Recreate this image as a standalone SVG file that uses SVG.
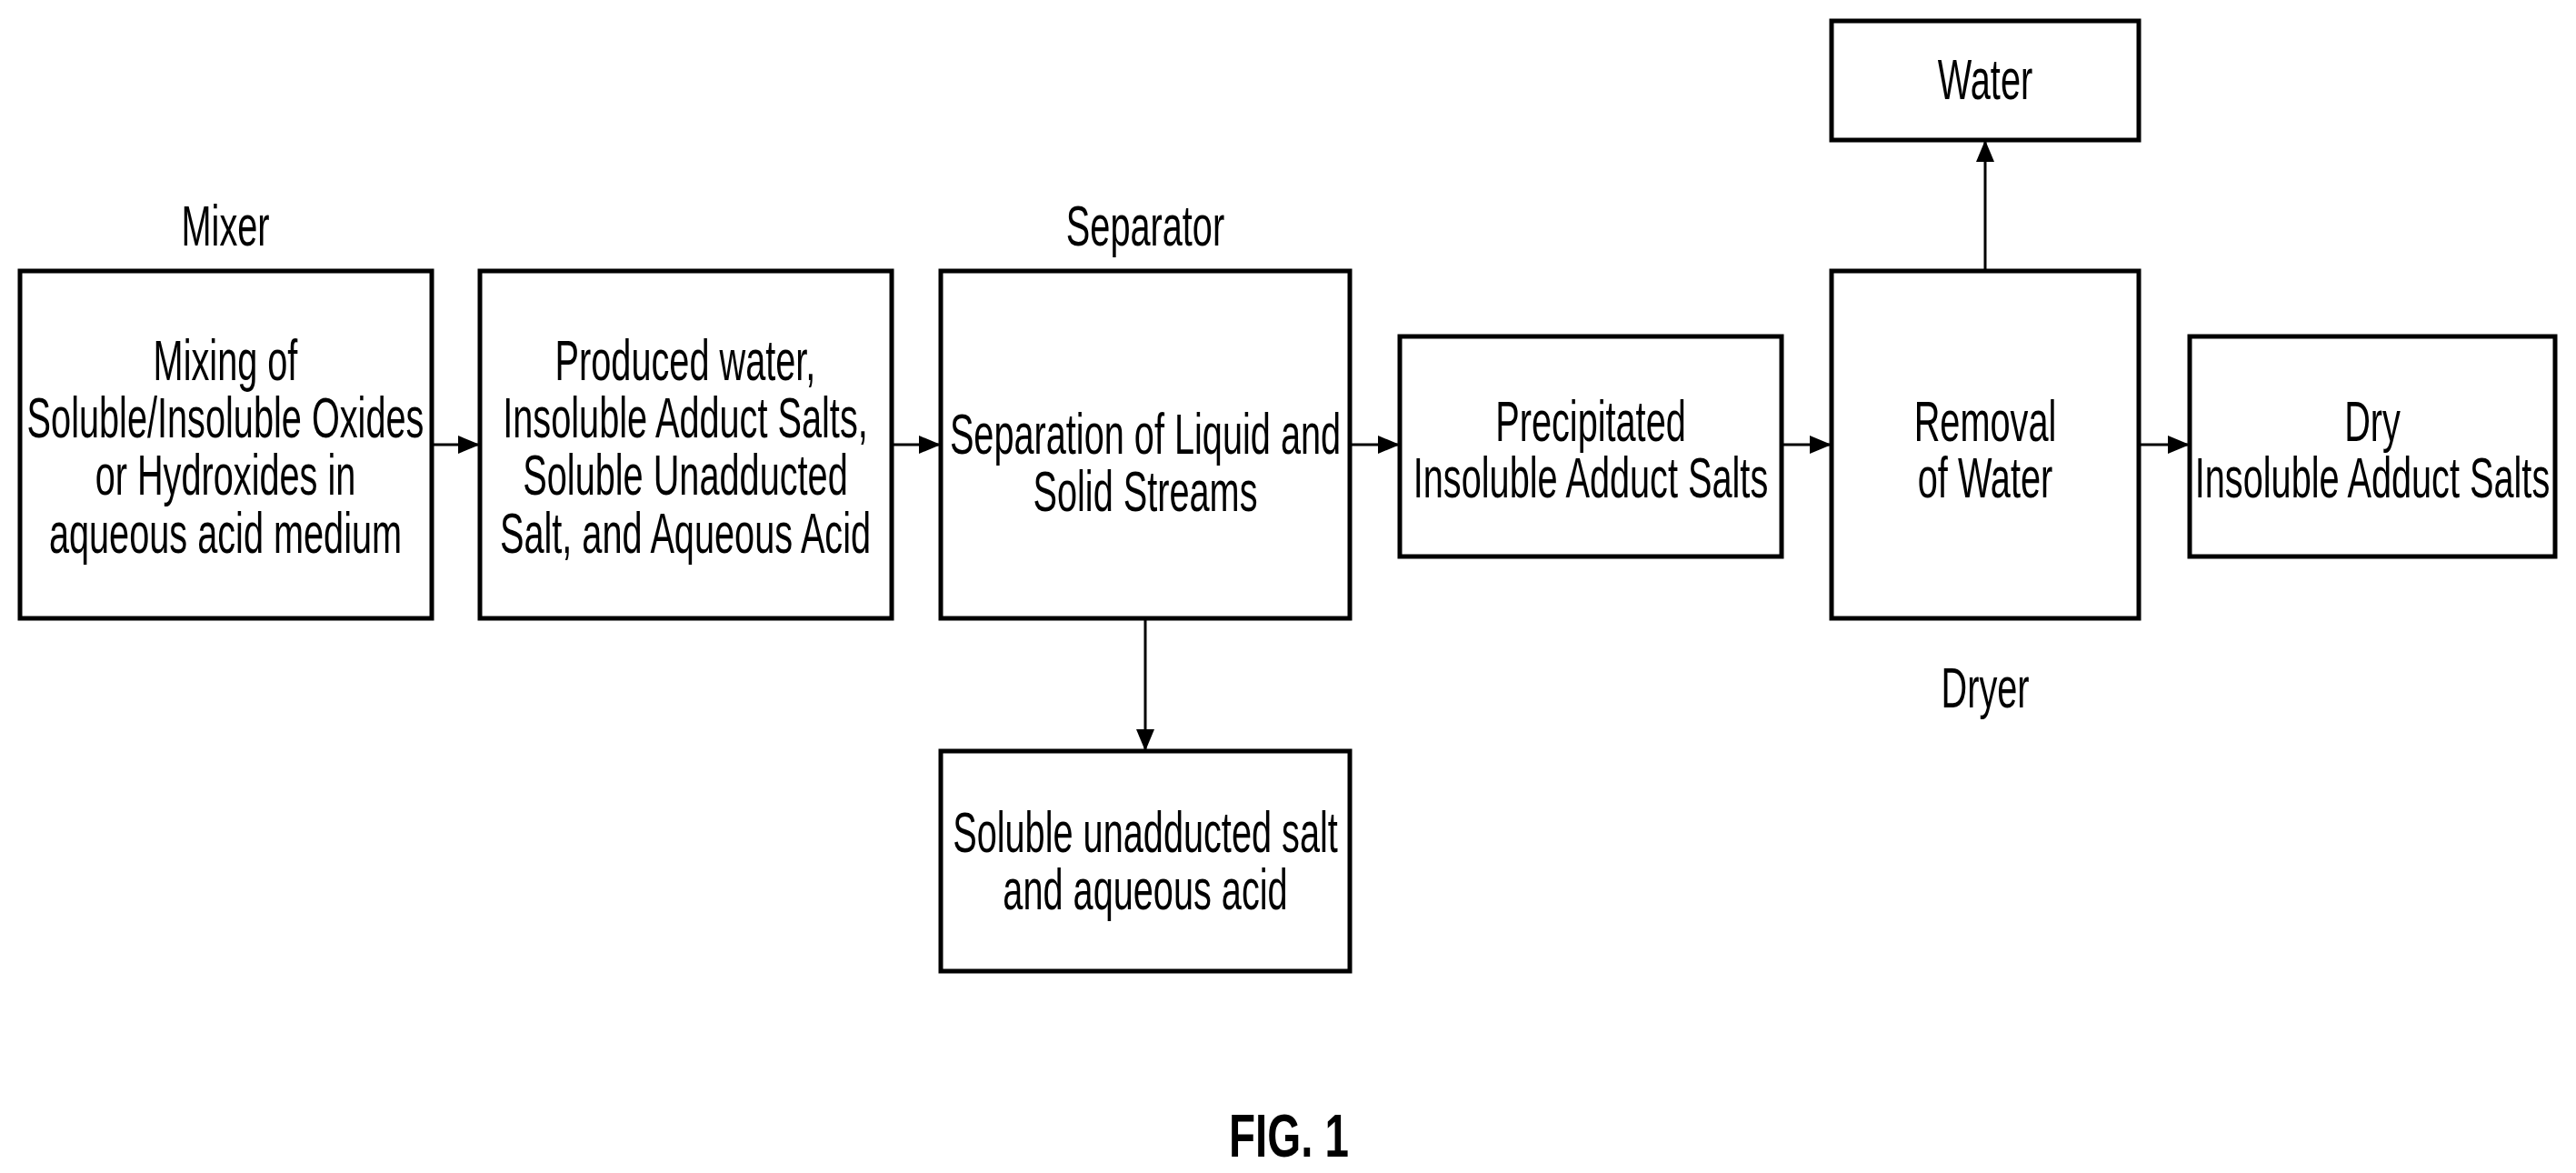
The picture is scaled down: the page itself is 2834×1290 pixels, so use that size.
<svg xmlns="http://www.w3.org/2000/svg" width="2834" height="1290" viewBox="0 0 2834 1290">
<style>
.n rect{fill:#fff;stroke:#000;stroke-width:5}
text{font-family:"Liberation Sans",Arial,sans-serif;font-size:63px;text-anchor:middle;fill:#000}
.c line{stroke:#000;stroke-width:3}
.fig{font-weight:bold;font-size:66px}
</style>
<defs>
<marker id="h" viewBox="0 0 24 20" refX="24" refY="10" markerWidth="24" markerHeight="20" orient="auto" markerUnits="userSpaceOnUse"><path d="M0,0L24,10L0,20z" fill="#000"/></marker></defs>
<path d="M0,0H2834V1290H0z" fill="#fff"/>
<g class="c">
<line x1="475" y1="489" x2="528" y2="489" marker-end="url(#h)"/>
<line x1="981" y1="489" x2="1035" y2="489" marker-end="url(#h)"/>
<line x1="1485" y1="489" x2="1540" y2="489" marker-end="url(#h)"/>
<line x1="1960" y1="489" x2="2015" y2="489" marker-end="url(#h)"/>
<line x1="2353" y1="489" x2="2409" y2="489" marker-end="url(#h)"/>
<line x1="1260" y1="680" x2="1260" y2="826" marker-end="url(#h)"/>
<line x1="2184" y1="298" x2="2184" y2="154" marker-end="url(#h)"/>
</g>
<g id="mixer" class="n"><rect x="22" y="298" width="453" height="382"/>
<g transform="translate(248,0) scale(0.63,1)"><text x="0" y="270">Mixer</text><text x="0" y="418">Mixing of</text><text x="0" y="481">Soluble/Insoluble Oxides</text><text x="0" y="544">or Hydroxides in</text><text x="0" y="608">aqueous acid medium</text></g></g>
<g id="produced" class="n"><rect x="528" y="298" width="453" height="382"/>
<g transform="translate(754,0) scale(0.63,1)"><text x="0" y="418">Produced water,</text><text x="0" y="481">Insoluble Adduct Salts,</text><text x="0" y="544">Soluble Unadducted</text><text x="0" y="608">Salt, and Aqueous Acid</text></g></g>
<g id="separator" class="n"><rect x="1035" y="298" width="450" height="382"/>
<g transform="translate(1260,0) scale(0.63,1)"><text x="0" y="270">Separator</text><text x="0" y="499">Separation of Liquid and</text><text x="0" y="562">Solid Streams</text></g></g>
<g id="precip" class="n"><rect x="1540" y="370" width="420" height="242"/>
<g transform="translate(1750,0) scale(0.63,1)"><text x="0" y="485">Precipitated</text><text x="0" y="547">Insoluble Adduct Salts</text></g></g>
<g id="dryer" class="n"><rect x="2015" y="298" width="338" height="382"/>
<g transform="translate(2184,0) scale(0.63,1)"><text x="0" y="485">Removal</text><text x="0" y="547">of Water</text><text x="0" y="778">Dryer</text></g></g>
<g id="water" class="n"><rect x="2015" y="23" width="338" height="131"/>
<g transform="translate(2184,0) scale(0.63,1)"><text x="0" y="109">Water</text></g></g>
<g id="dry" class="n"><rect x="2409" y="370" width="402" height="242"/>
<g transform="translate(2610,0) scale(0.63,1)"><text x="0" y="485">Dry</text><text x="0" y="547">Insoluble Adduct Salts</text></g></g>
<g id="soluble" class="n"><rect x="1035" y="826" width="450" height="242"/>
<g transform="translate(1260,0) scale(0.63,1)"><text x="0" y="937">Soluble unadducted salt</text><text x="0" y="1000">and aqueous acid</text></g></g>
<g transform="translate(1418,0) scale(0.72,1)"><text class="fig" x="0" y="1272">FIG. 1</text></g>
</svg>
